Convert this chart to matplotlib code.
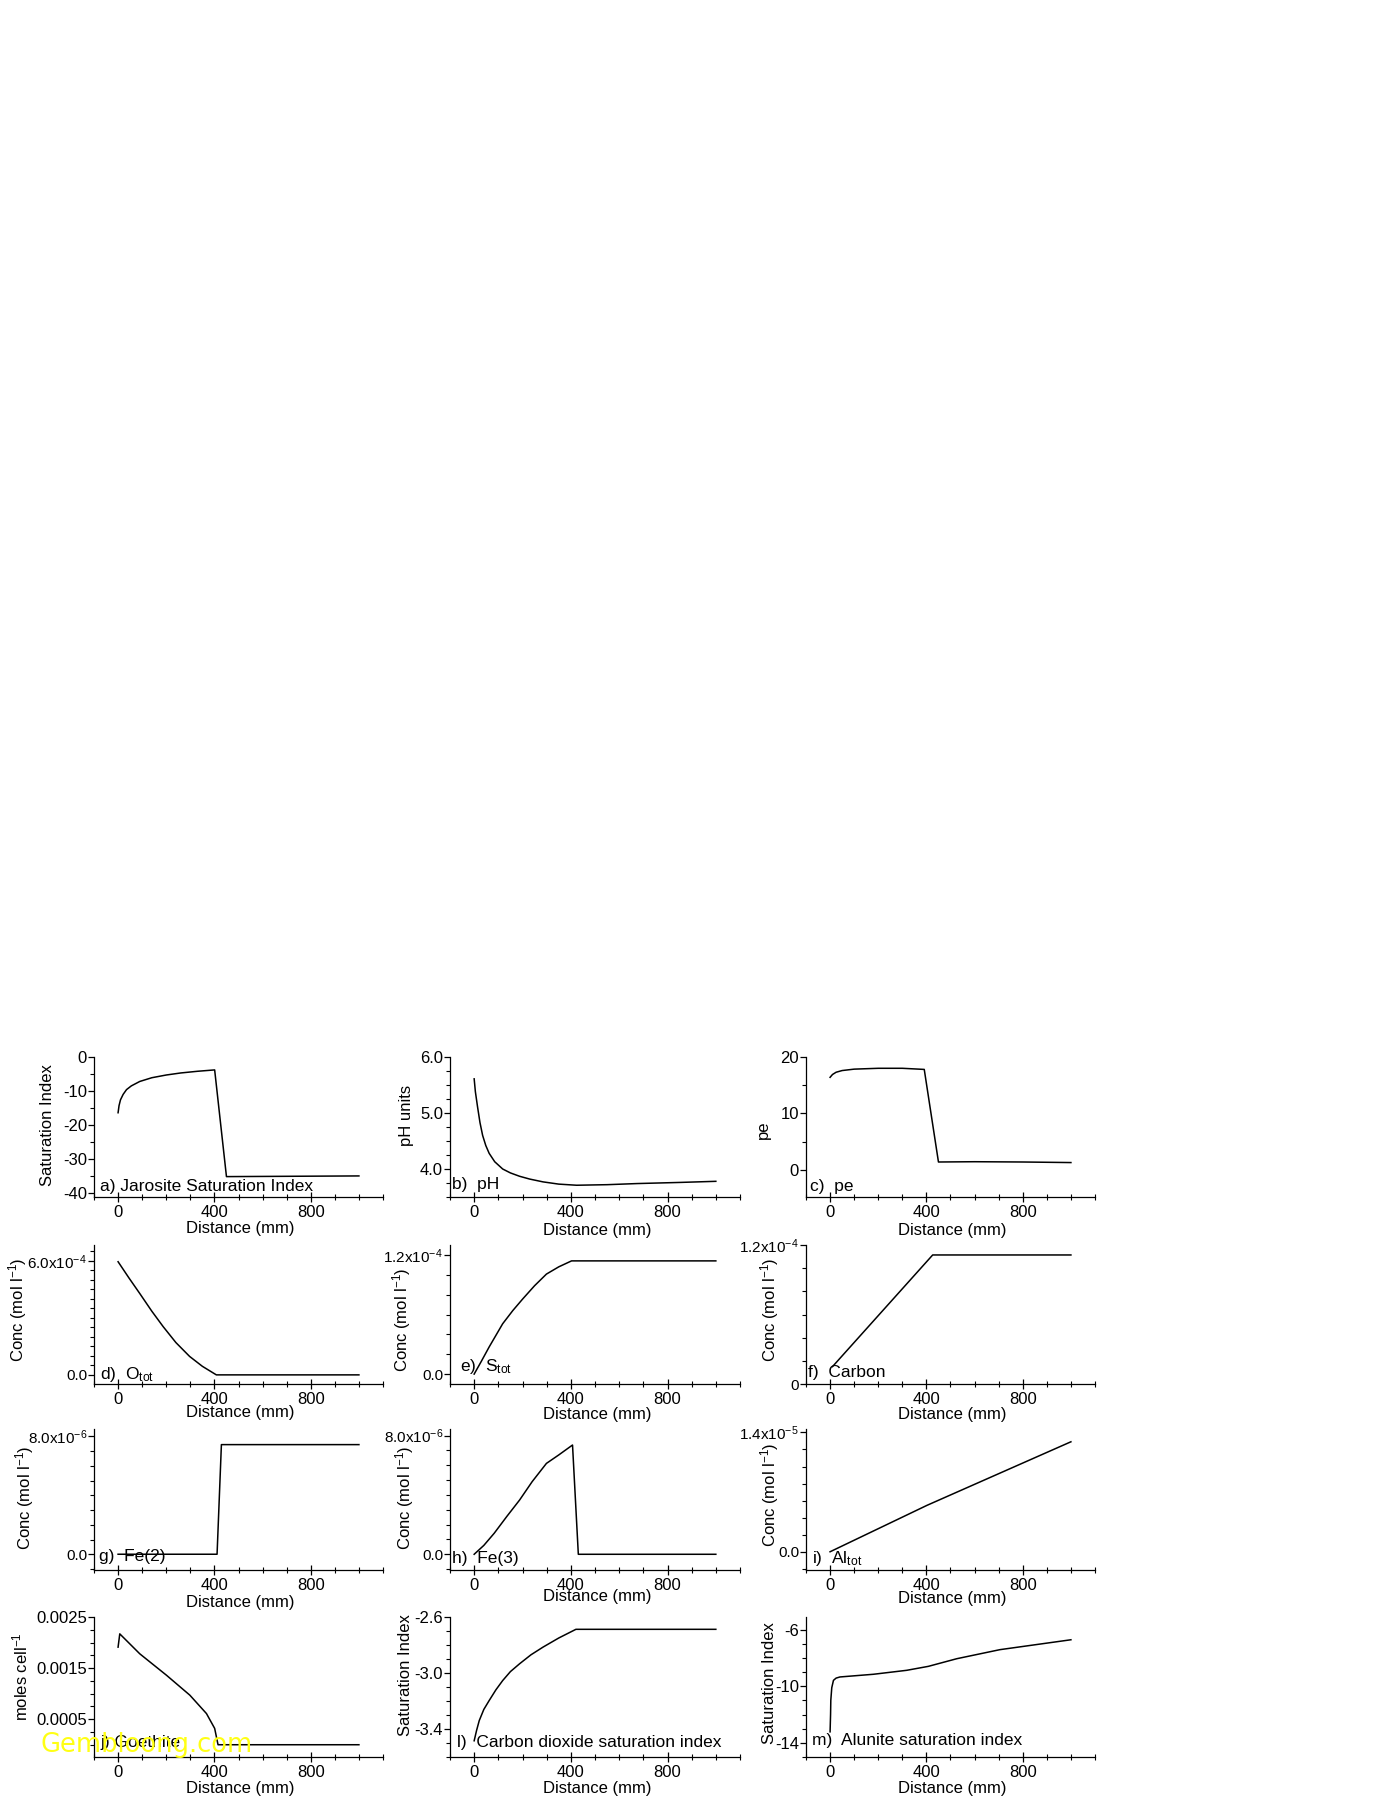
import numpy as np
import matplotlib.pyplot as plt
from matplotlib.ticker import MultipleLocator, FixedLocator, FixedFormatter

plt.rcParams['font.family'] = ['Liberation Sans', 'DejaVu Sans']
plt.rcParams['mathtext.fontset'] = 'custom'
plt.rcParams['mathtext.rm'] = 'Liberation Sans'
plt.rcParams['mathtext.it'] = 'Liberation Sans:italic'
plt.rcParams['mathtext.default'] = 'regular'
plt.rcParams['axes.unicode_minus'] = False

# ---- data (distance in mm) ----
a_x = [0, 4, 10, 21, 35, 55, 90, 140, 200, 260, 330, 401, 450, 1000]
a_y = [-16.4, -14.3, -12.6, -11.0, -9.6, -8.5, -7.2, -6.1, -5.3, -4.7, -4.2, -3.8, -35.2, -35.0]

b_x = [0, 5, 14, 24, 35, 48, 62, 85, 118, 150, 188, 230, 285, 350, 424, 550, 674, 850, 1000]
b_y = [5.61, 5.38, 5.11, 4.83, 4.60, 4.42, 4.28, 4.13, 4.00, 3.93, 3.87, 3.82, 3.77, 3.73, 3.71,
       3.72, 3.74, 3.76, 3.78]

c_x = [0, 10, 25, 50, 100, 200, 300, 391, 450, 600, 800, 1000]
c_y = [16.4, 16.9, 17.3, 17.6, 17.85, 18.0, 18.0, 17.8, 1.4, 1.45, 1.4, 1.3]

d_x = [0, 45, 90, 140, 187, 240, 297, 350, 408, 1000]
d_y = [5.95e-4, 5.1e-4, 4.28e-4, 3.35e-4, 2.54e-4, 1.7e-4, 0.97e-4, 0.45e-4, 0.0, 0.0]

e_x = [0, 30, 62, 90, 118, 160, 201, 250, 299, 350, 403, 1000]
e_y = [0.0, 0.13e-4, 0.273e-4, 0.39e-4, 0.507e-4, 0.64e-4, 0.757e-4, 0.89e-4, 1.007e-4,
       1.08e-4, 1.14e-4, 1.14e-4]

f_x = [10, 426, 1000]
f_y = [0.15e-4, 1.114e-4, 1.114e-4]

g_x = [0, 411, 429, 1000]
g_y = [0.0, 0.0, 7.44e-6, 7.44e-6]

h_x = [0, 40, 83, 135, 188, 240, 299, 350, 407, 431, 1000]
h_y = [0.0, 0.6e-6, 1.42e-6, 2.55e-6, 3.66e-6, 4.9e-6, 6.13e-6, 6.7e-6, 7.37e-6, 0.0, 0.0]

i_x = [0, 402, 1000]
i_y = [0.0, 0.544e-5, 1.29e-5]

j_x = [0, 7, 90, 201, 298, 367, 401, 415, 1000]
j_y = [0.00191, 0.00217, 0.00178, 0.00136, 0.00097, 0.00061, 0.00032, 0.0, 0.0]

l_x = [0, 10, 21, 40, 62, 90, 118, 150, 188, 235, 285, 350, 421, 1000]
l_y = [-3.484, -3.41, -3.34, -3.26, -3.197, -3.12, -3.054, -2.99, -2.934, -2.87, -2.815,
       -2.75, -2.688, -2.688]

m_x = [0, 2, 3, 7, 14, 25, 41, 180, 318, 408, 526, 705, 1000]
m_y = [-13.22, -12.0, -10.99, -10.1, -9.58, -9.42, -9.34, -9.15, -8.87, -8.59, -8.05, -7.41, -6.71]

W, H = 1391, 1800
fig = plt.figure(figsize=(W / 100, H / 100), dpi=100)


def fx(px):
    return px / W


def fy(py):
    return 1 - py / H


cols = [(94, 383), (450, 740), (806, 1095)]
rows = [(1057, 1197), (1245, 1384), (1429, 1570), (1617, 1757)]

panels = [
    # x, y, row, col, ylim, major ticks, tick labels, minor step, ylabel, label pos, panel text, text pos, xlabel y
    (a_x, a_y, 0, 0, (-41.2, 0), [-40, -30, -20, -10, 0], None, 5,
     'Saturation Index', (47, 1125), 'a) Jarosite Saturation Index', (100, 1187), 1228),
    (b_x, b_y, 0, 1, (3.5, 6.0), [4.0, 5.0, 6.0], ['4.0', '5.0', '6.0'], 0.25,
     'pH units', (407, 1115), 'b)  pH', (452, 1185), 1230),
    (c_x, c_y, 0, 2, (-4.8, 20), [0, 10, 20], None, 5,
     'pe', (763, 1130), 'c)  pe', (810, 1187), 1230),
    (d_x, d_y, 1, 0, (-0.48e-4, 6.83e-4), [0, 6e-4], ['0.0', '6.0x10$^{-4}$'], 0.5e-4,
     'Conc (mol l$^{-1}$)', (18, 1310), 'd)  O$_{tot}$', (100, 1374), 1412),
    (e_x, e_y, 1, 1, (-0.1e-4, 1.3e-4), [0, 1.2e-4], ['0.0', '1.2x10$^{-4}$'], 0.2e-4,
     'Conc (mol l$^{-1}$)', (402, 1320), 'e)  S$_{tot}$', (460, 1367), 1415),
    (f_x, f_y, 1, 2, (0, 1.2e-4), [0, 1.2e-4], ['0', '1.2x10$^{-4}$'], 0.2e-4,
     'Conc (mol l$^{-1}$)', (770, 1310), 'f)  Carbon', (808, 1373), 1415),
    (g_x, g_y, 2, 0, (-1.07e-6, 8.5e-6), [0, 8e-6], ['0.0', '8.0x10$^{-6}$'], 1e-6,
     'Conc (mol l$^{-1}$)', (25, 1498), 'g)  Fe(2)', (99, 1557), 1603),
    (h_x, h_y, 2, 1, (-1.06e-6, 8.45e-6), [0, 8e-6], ['0.0', '8.0x10$^{-6}$'], 1e-6,
     'Conc (mol l$^{-1}$)', (405, 1498), 'h)  Fe(3)', (452, 1558), 1597),
    (i_x, i_y, 2, 2, (-0.214e-5, 1.44e-5), [0, 1.4e-5], ['0.0', '1.4x10$^{-5}$'], 0.2e-5,
     'Conc (mol l$^{-1}$)', (770, 1495), 'i)  Al$_{tot}$', (812, 1558), 1598),
    (j_x, j_y, 3, 0, (-0.00024, 0.0025), [0.0005, 0.0015, 0.0025], ['0.0005', '0.0015', '0.0025'], 0.00025,
     'moles cell$^{-1}$', (20, 1677), 'j) Goethite', (100, 1742), 1788),
    (l_x, l_y, 3, 1, (-3.6, -2.6), [-3.4, -3.0, -2.6], ['-3.4', '-3.0', '-2.6'], 0.1,
     'Saturation Index', (405, 1675), 'l)  Carbon dioxide saturation index', (457, 1742), 1788),
    (m_x, m_y, 3, 2, (-15, -5.1), [-14, -10, -6], None, 1,
     'Saturation Index', (770, 1683), 'm)  Alunite saturation index', (812, 1740), 1788),
]

for (x, y, r, c, ylim, yt, ytl, ymin, ylab, ylpos, ptxt, ppos, xly) in panels:
    l, rr = cols[c]
    t, b = rows[r]
    ax = fig.add_axes([fx(l), fy(b), (rr - l) / W, (b - t) / H])
    ax.plot(x, y, color='black', lw=1.1)
    ax.set_xlim(-100, 1100)
    ax.set_ylim(*ylim)
    ax.spines['top'].set_visible(False)
    ax.spines['right'].set_visible(False)
    for s in ['left', 'bottom']:
        ax.spines[s].set_linewidth(0.9)
    ax.xaxis.set_major_locator(FixedLocator([0, 400, 800]))
    ax.xaxis.set_minor_locator(MultipleLocator(100))
    ax.yaxis.set_major_locator(FixedLocator(yt))
    if ytl is not None:
        ax.yaxis.set_major_formatter(FixedFormatter(ytl))
    ax.yaxis.set_minor_locator(MultipleLocator(ymin))
    ysize = 11 if (ytl is not None and 'x10' in ytl[-1]) else 12
    ax.tick_params(axis='x', which='major', direction='inout', length=7, width=0.9, labelsize=12, pad=2)
    ax.tick_params(axis='x', which='minor', direction='inout', length=5, width=0.8)
    ax.tick_params(axis='y', which='major', direction='out', length=4, width=0.9, labelsize=ysize, pad=1)
    ax.tick_params(axis='y', which='minor', direction='out', length=3, width=0.8)
    fig.text(fx((l + rr) / 2 + 2), fy(xly), 'Distance (mm)', ha='center', va='center', fontsize=12)
    fig.text(fx(ylpos[0]), fy(ylpos[1]), ylab, rotation=90, ha='center', va='center', fontsize=12)
    fig.text(fx(ppos[0]), fy(ppos[1]), ptxt, ha='left', va='center', fontsize=12.5)

# watermark seen over panel j
fig.text(fx(40), fy(1745), 'Gembloong.com', color='#ffff14', fontsize=18.5, ha='left', va='center',
         family=['DejaVu Sans'])

fig.savefig('out.png', dpi=100)
